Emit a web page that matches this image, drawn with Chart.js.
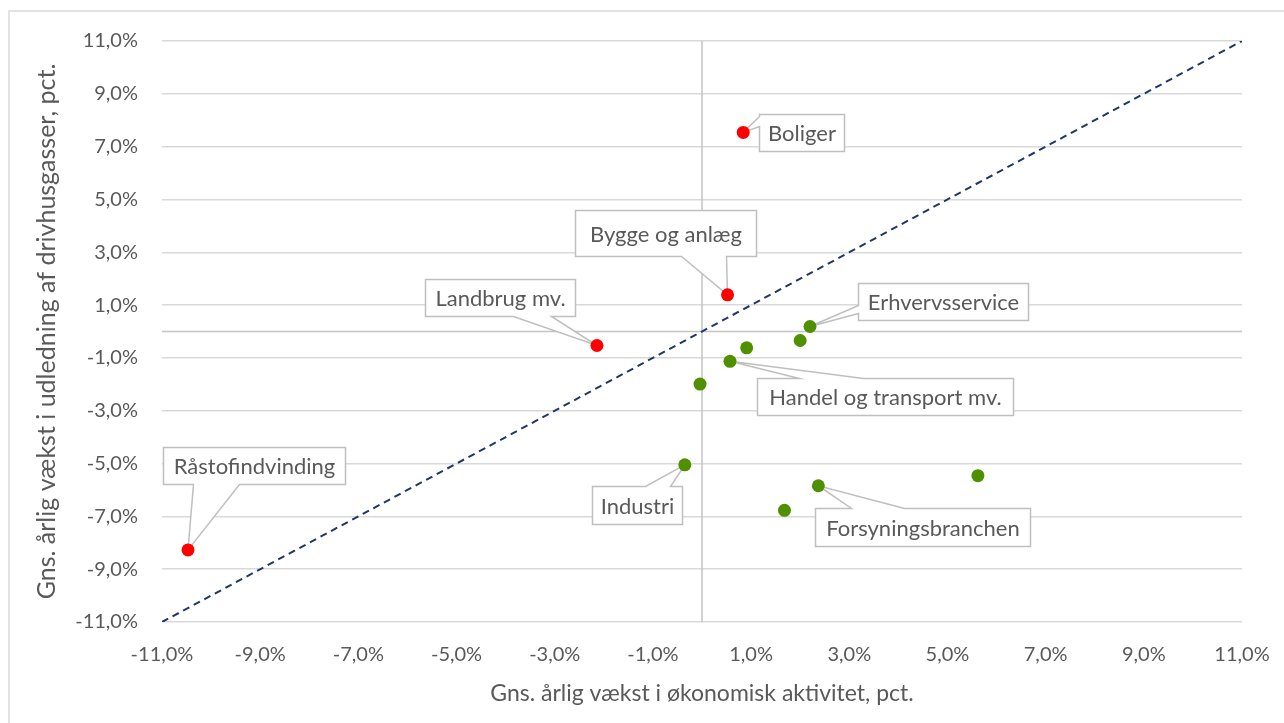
<!DOCTYPE html>
<html><head><meta charset="utf-8">
<script src="https://cdn.jsdelivr.net/npm/chart.js@4.4.1/dist/chart.umd.min.js"></script>
<style>html,body{margin:0;padding:0;background:#fff;overflow:hidden}canvas{display:block}</style>
</head><body>
<canvas id="c" width="1284" height="723"></canvas>
<script>
// ---- data ----
const tickValues = [-11, -9, -7, -5, -3, -1, 1, 3, 5, 7, 9, 11];
const axisMin = -11, axisMax = 11;
const xTitle = 'Gns. årlig vækst i økonomisk aktivitet, pct.';
const yTitle = 'Gns. årlig vækst i udledning af drivhusgasser, pct.';

const redNames = ['Boliger', 'Bygge og anlæg', 'Landbrug mv.', 'Råstofindvinding'];
const redX = [0.84, 0.52, -2.14, -10.47];
const redY = [7.54, 1.39, -0.53, -8.27];

const greenNames = ['Erhvervsservice', '', '', 'Handel og transport mv.', '', 'Industri', 'Forsyningsbranchen', '', ''];
const greenX = [2.20, 2.00, 0.91, 0.57, -0.04, -0.35, 2.37, 1.68, 5.62];
const greenY = [0.19, -0.34, -0.62, -1.13, -1.99, -5.05, -5.84, -6.77, -5.46];

const diagonal = [-11, 11];

// ---- styles / layout ----
const FONT = 'Lato, "Open Sans", sans-serif';
const TEXT = '#595959';
const GRID = '#d9d9d9';
const BOXLINE = '#bfbfbf';

// callout box placement relative to its point (pixels), wedge base on given edge
const calloutLayout = {
  'Boliger':                 {dx: 16,  dy: -18, w: 85,  h: 37, edge: 'left',   a: 2,   b: 12},
  'Bygge og anlæg':          {dx: -153,dy: -85, w: 181, h: 46, edge: 'bottom', a: 106, b: 151},
  'Landbrug mv.':            {dx: -172,dy: -66, w: 150, h: 37, edge: 'bottom', a: 88,  b: 126},
  'Råstofindvinding':        {dx: -25, dy: -103,w: 182, h: 37, edge: 'bottom', a: 30,  b: 76},
  'Erhvervsservice':         {dx: 48,  dy: -43, w: 170, h: 37, edge: 'left',   a: 22,  b: 30},
  'Handel og transport mv.': {dx: 27,  dy: 17,  w: 256, h: 37, edge: 'top',    a: 42,  b: 106},
  'Industri':                {dx: -93, dy: 21,  w: 90,  h: 38, edge: 'top',    a: 53,  b: 78},
  'Forsyningsbranchen':      {dx: -3,  dy: 22,  w: 215, h: 38, edge: 'top',    a: 36,  b: 89}
};

function fmt(v) { return v.toFixed(1).replace('.', ',') + '%'; }
function toPts(xs, ys) { return xs.map((x, i) => ({x: x, y: ys[i]})); }

function drawCallout(ctx, px, py, c, text) {
  const x = Math.round(px + c.dx) + 0.5, y = Math.round(py + c.dy) + 0.5, w = c.w, h = c.h;
  ctx.beginPath();
  ctx.moveTo(x, y);
  if (c.edge === 'top') { ctx.lineTo(x + c.a, y); ctx.lineTo(px, py); ctx.lineTo(x + c.b, y); }
  ctx.lineTo(x + w, y);
  if (c.edge === 'right') { ctx.lineTo(x + w, y + c.a); ctx.lineTo(px, py); ctx.lineTo(x + w, y + c.b); }
  ctx.lineTo(x + w, y + h);
  if (c.edge === 'bottom') { ctx.lineTo(x + c.b, y + h); ctx.lineTo(px, py); ctx.lineTo(x + c.a, y + h); }
  ctx.lineTo(x, y + h);
  if (c.edge === 'left') { ctx.lineTo(x, y + c.b); ctx.lineTo(px, py); ctx.lineTo(x, y + c.a); }
  ctx.closePath();
  ctx.fillStyle = '#ffffff';
  ctx.fill();
  ctx.strokeStyle = BOXLINE;
  ctx.lineWidth = 1.5;
  ctx.stroke();
  ctx.fillStyle = TEXT;
  ctx.font = '22px ' + FONT;
  ctx.textAlign = 'center';
  ctx.textBaseline = 'middle';
  ctx.fillText(text, x + w / 2, y + h / 2 + 1);
}

const decorPlugin = {
  id: 'decor',
  beforeDraw(chart) {
    const ctx = chart.ctx;
    ctx.save();
    ctx.strokeStyle = GRID;
    ctx.lineWidth = 1.5;
    ctx.strokeRect(9, 11, 1400, 900);
    ctx.restore();
  },
  beforeDatasetsDraw(chart) {
    const ctx = chart.ctx, xs = chart.scales.x, ys = chart.scales.y, a = chart.chartArea;
    ctx.save();
    ctx.strokeStyle = '#c4c4c4';
    ctx.lineWidth = 1.5;
    const x0 = xs.getPixelForValue(0), y0 = ys.getPixelForValue(0);
    ctx.beginPath();
    ctx.moveTo(x0, a.top); ctx.lineTo(x0, a.bottom);
    ctx.moveTo(a.left, y0); ctx.lineTo(a.right, y0);
    ctx.stroke();
    chart.data.datasets.forEach((ds, di) => {
      if (!ds.names) return;
      const meta = chart.getDatasetMeta(di);
      ds.names.forEach((n, i) => {
        if (!n || !calloutLayout[n]) return;
        const el = meta.data[i];
        drawCallout(ctx, el.x, el.y, calloutLayout[n], n);
      });
    });
    ctx.restore();
  }
};

new Chart(document.getElementById('c'), {
  type: 'scatter',
  data: {
    datasets: [
      {
        type: 'line',
        data: toPts(diagonal, diagonal),
        borderColor: '#1f3864',
        borderWidth: 2,
        borderDash: [7, 5],
        pointRadius: 0,
        fill: false,
        order: 10
      },
      {
        data: toPts(greenX, greenY),
        names: greenNames,
        backgroundColor: '#4e9000',
        borderWidth: 0,
        pointRadius: 6.5,
        order: 1
      },
      {
        data: toPts(redX, redY),
        names: redNames,
        backgroundColor: '#ff0000',
        borderWidth: 0,
        pointRadius: 6.5,
        order: 0
      }
    ]
  },
  options: {
    responsive: false,
    animation: false,
    events: [],
    layout: {padding: {top: 41, right: 42, bottom: 0, left: 0}},
    plugins: {legend: {display: false}, tooltip: {enabled: false}},
    scales: {
      x: {
        type: 'linear', min: axisMin, max: axisMax,
        afterBuildTicks: s => { s.ticks = tickValues.map(v => ({value: v})); },
        afterFit: s => { s.height = 101; s.paddingLeft = 0; s.paddingRight = 0; },
        ticks: {callback: v => fmt(v), font: {family: FONT, size: 20}, color: TEXT, padding: 21, maxRotation: 0, autoSkip: false},
        grid: {display: false, drawTicks: false},
        border: {display: false},
        title: {display: true, text: xTitle, font: {family: FONT, size: 23}, color: TEXT, padding: {top: 0, bottom: 16}}
      },
      y: {
        type: 'linear', min: axisMin, max: axisMax,
        afterBuildTicks: s => { s.ticks = tickValues.map(v => ({value: v})); },
        afterFit: s => { s.width = 162; s.paddingTop = 0; s.paddingBottom = 0; },
        ticks: {callback: v => fmt(v), font: {family: FONT, size: 20}, color: TEXT, padding: 24, autoSkip: false},
        grid: {color: GRID, lineWidth: 1.5, drawTicks: false},
        border: {display: false},
        title: {display: true, text: yTitle, font: {family: FONT, size: 25}, color: TEXT, padding: {top: 32, bottom: 0}}
      }
    }
  },
  plugins: [decorPlugin]
});
</script>
</body></html>
